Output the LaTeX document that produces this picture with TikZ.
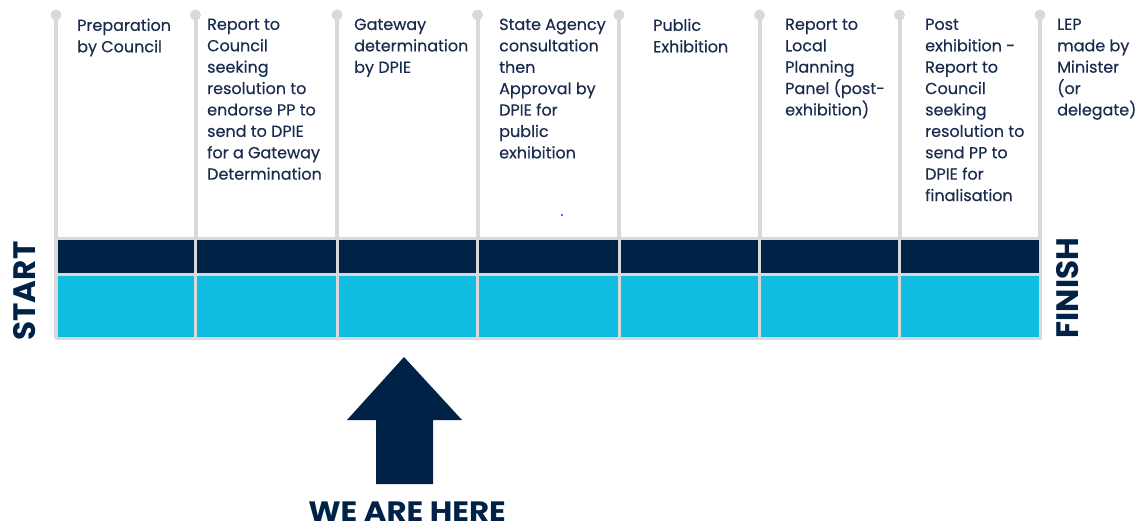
\documentclass[tikz,border=0pt]{standalone}
\usepackage{fontspec}
\setmainfont{Poppins}
\newfontfamily\stagefont[FakeBold=0.35]{Poppins}
\definecolor{navy}{HTML}{002247}
\definecolor{txtnavy}{HTML}{1A2C4E}
\definecolor{cyanbar}{HTML}{10BDE0}
\definecolor{rule}{HTML}{D9D9D9}
\begin{document}
\begin{tikzpicture}[x=1pt,y=-1pt,
  stagetext/.style={anchor=north west,inner sep=0pt,align=left,text=txtnavy,
    font=\stagefont\fontsize{16}{21.4}\selectfont},
  darkcell/.style={fill=navy,draw=rule,line width=3pt},
  lightcell/.style={fill=cyanbar,draw=rule,line width=3pt},
  railline/.style={draw=rule,line width=4pt},
  raildot/.style={fill=rule,circle,minimum size=11pt,inner sep=0pt},
  endlabel/.style={rotate=90,text=navy,font=\fontsize{31}{31}\bfseries\selectfont,inner sep=0pt},
  herelabel/.style={text=navy,font=\fontsize{28}{28}\bfseries\selectfont,inner sep=0pt,anchor=base,xscale=1.1}]
\useasboundingbox (0,0) rectangle (1139,524);
\fill[white] (0,0) rectangle (1139,524);
% rails
\foreach \i/\x in {0/56,1/195.5,2/337,3/477.5,4/619,5/759.5,6/899.5,7/1040}{
  \coordinate (top\i) at (\x,15);
  \coordinate (bot\i) at (\x,338);
  \draw[railline] (top\i) -- (bot\i);
  \node[raildot] (dot\i) at (top\i) {};
}
% bar cells
\foreach \i/\j in {0/1,1/2,2/3,3/4,4/5,5/6,6/7}{
  \path[darkcell] (top\i |- 0,238) rectangle (top\j |- 0,274);
  \path[lightcell] (top\i |- 0,274) rectangle (top\j |- 0,338);
}
% stage texts
\node[stagetext] (s1) at (77,18.5) {Preparation\\by Council};
\node[stagetext] (s2) at (207,18.5) {Report to\\Council\\seeking\\resolution to\\endorse PP to\\send to DPIE\\for a Gateway\\Determination};
\node[stagetext] (s3) at (354,18.5) {Gateway\\determination\\by DPIE};
\node[stagetext] (s4) at (499,18.5) {State Agency\\consultation\\then\\Approval by\\DPIE for\\public\\exhibition};
\node[stagetext] (s5) at (653,18.5) {Public\\Exhibition};
\node[stagetext] (s6) at (785,18.5) {Report to\\Local\\Planning\\Panel (post-\\exhibition)};
\node[stagetext] (s7) at (925,18.5) {Post\\exhibition -\\Report to\\Council\\seeking\\resolution to\\send PP to\\DPIE for\\finalisation};
\node[stagetext] (s8) at (1057,18.5) {LEP\\made by\\Minister\\(or\\delegate)};
\fill[blue!70!cyan] (562,215) circle (1.1pt);
% start / finish
\node[endlabel] (start) at (25,291) {START};
\node[endlabel] (finish) at (1068,288) {FINISH};
% arrow
\fill[navy] (404,357) -- (462,420) -- (433,420) -- (433,484) -- (376,484) -- (376,420) -- (347,420) -- cycle;
\node[herelabel] (here) at (407,521.5) {WE ARE HERE};
\end{tikzpicture}
\end{document}
